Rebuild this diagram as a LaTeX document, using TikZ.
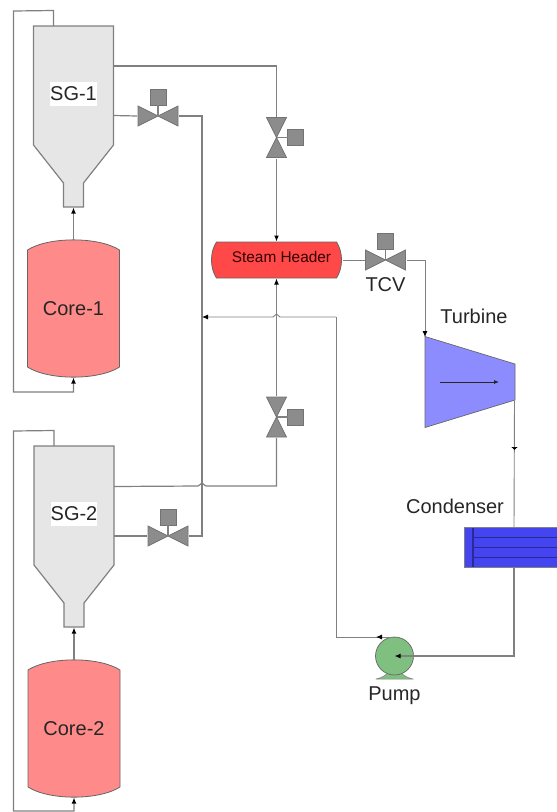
\documentclass[tikz,border=0pt]{standalone}
\usepackage{fontspec}
\setmainfont{Liberation Sans}
\usetikzlibrary{arrows.meta,calc}
\definecolor{pipegray}{HTML}{808080}
\definecolor{valvegray}{HTML}{8C8C8C}
\definecolor{sgfill}{HTML}{E6E6E6}
\definecolor{corefill}{HTML}{FF8A8A}
\definecolor{headerfill}{HTML}{FF4848}
\definecolor{turbinefill}{HTML}{8C8CFF}
\definecolor{condfill}{HTML}{4444F0}
\definecolor{condline}{HTML}{2A2A90}
\definecolor{pumpfill}{HTML}{7FBF7F}
\tikzstyle{pipe} = [draw=pipegray, line width=1.2pt]
\tikzstyle{thinpipe} = [draw=pipegray, line width=0.9pt]
\tikzstyle{flow} = [-{Latex[black,length=6pt,width=5pt]}]
\tikzstyle{flat} = [-{Latex[black,length=3pt,width=7pt]}]
\tikzstyle{tag} = [font=\fontsize{20}{20}\selectfont, text=black!85, inner sep=0pt]
\tikzstyle{sglabel} = [tag, fill=white, minimum width=46pt, minimum height=24pt]
\tikzstyle{core} = [minimum width=94pt, minimum height=138pt, inner sep=0pt, outer sep=0pt, path picture={
    \draw [shift={(path picture bounding box.center)}, draw=black!60, fill=corefill, line width=0.8pt]
        (-46,58.5) .. controls (-25,72) and (25,72) .. (46,58.5) -- (46,-58.5)
        .. controls (25,-72) and (-25,-72) .. (-46,-58.5) -- cycle;}]
\tikzstyle{sg} = [minimum width=82pt, minimum height=182pt, inner sep=0pt, outer sep=0pt, path picture={
    \draw [shift={(path picture bounding box.center)}, draw=pipegray, fill=sgfill, line width=1.2pt]
        (-40,90.5) -- (40,90.5) -- (40,-28.5) -- (10,-66.5) -- (10,-90.5)
        -- (-10,-90.5) -- (-10,-66.5) -- (-40,-28.5) -- cycle;}]
\tikzstyle{header} = [minimum width=132pt, minimum height=37pt, inner sep=0pt, outer sep=0pt, path picture={
    \draw [shift={(path picture bounding box.center)}, draw=black!60, fill=headerfill, line width=0.8pt]
        (-60,18) -- (60,18) .. controls (66.7,8) and (66.7,-8) .. (60,-18) -- (-60,-18)
        .. controls (-66.7,-8) and (-66.7,8) .. cycle;}]
\tikzstyle{turbine} = [minimum width=92pt, minimum height=93pt, inner sep=0pt, outer sep=0pt, path picture={
    \draw [shift={(path picture bounding box.center)}, draw=black!60, fill=turbinefill, line width=0.7pt]
        (-45,45.5) -- (45,18) -- (45,-18) -- (-45,-45.5) -- cycle;
    \draw [shift={(path picture bounding box.center)}, -{Latex[length=5pt,width=4pt]}, black!85, line width=0.8pt] (-30,0) -- (29,0);}]
\tikzstyle{condenser} = [draw=pipegray, fill=condfill, line width=0.7pt, minimum width=93pt, minimum height=40pt,
    inner sep=0pt, outer sep=0pt, path picture={
    \draw [shift={(path picture bounding box.center)}, draw=condline, line width=1.2pt]
        (-37.5,20) -- (-37.5,-20) (-37.5,10) -- (46.5,10) (-37.5,0) -- (46.5,0) (-37.5,-10) -- (46.5,-10);}]
\tikzstyle{pump} = [circle, draw=black!60, fill=pumpfill, line width=0.7pt, minimum size=38pt, inner sep=0pt, outer sep=0pt]
\tikzstyle{pumpbase} = [minimum width=38pt, minimum height=8pt, inner sep=0pt, outer sep=0pt, path picture={
    \draw [shift={(path picture bounding box.center)}, draw=black!50, fill=pumpfill, line width=0.5pt]
        (-18.5,-3.5) .. controls (-12,-2) and (-9,0) .. (-6,3.5) -- (6,3.5) .. controls (9,0) and (12,-2) .. (18.5,-3.5) -- cycle;}]
\tikzstyle{valve} = [minimum width=42pt, minimum height=21pt, inner sep=0pt, outer sep=0pt, path picture={
    \draw [shift={(path picture bounding box.center)}, draw=black!55, fill=valvegray, line width=0.8pt]
        (-20,10) -- (20,-10) -- (20,10) -- (-20,-10) -- cycle;}]
\tikzstyle{vvalve} = [minimum width=21pt, minimum height=42pt, inner sep=0pt, outer sep=0pt, path picture={
    \draw [shift={(path picture bounding box.center)}, draw=black!55, fill=valvegray, line width=0.8pt]
        (-10,20) -- (10,20) -- (-10,-20) -- (10,-20) -- cycle;}]
\tikzstyle{actuator} = [draw=black!55, fill=valvegray, line width=1pt, minimum size=16pt, inner sep=0pt, outer sep=0pt]
\begin{document}
\begin{tikzpicture}[x=1pt,y=1pt,node distance=20pt]
    \useasboundingbox (0,0) rectangle (557,-812);
    \node [sg] (sg1) at (73.5,-116.5) {};
    \node [sglabel, above of=sg1, node distance=22.5pt] (sg1label) {SG-1};
    \node [core, below of=sg1, node distance=192pt] (core1) {};
    \node [tag] (core1label) at (core1) {Core-1};
    \node [sg] (sg2) at (74,-536.5) {};
    \node [sglabel, above of=sg2, node distance=23pt] (sg2label) {SG-2};
    \node [core, below of=sg2, node distance=192pt] (core2) {};
    \node [tag] (core2label) at (core2) {Core-2};
    \node [valve] (fwv1) at (158,-116) {};
    \node [actuator, above of=fwv1, node distance=19pt] (fwa1) {};
    \node [valve] (fwv2) at (168,-536) {};
    \node [actuator, above of=fwv2, node distance=19pt] (fwa2) {};
    \node [vvalve] (msv1) at (276.5,-137.5) {};
    \node [actuator, right of=msv1, node distance=19pt] (msa1) {};
    \node [header] (header) at (276.5,-260) {};
    \node [font=\fontsize{15.4}{15.4}\selectfont, text=black!80!red, inner sep=0pt] (headerlabel) at (281.5,-256.5) {Steam Header};
    \node [vvalve, below of=header, node distance=157pt] (msv2) {};
    \node [actuator, right of=msv2, node distance=19pt] (msa2) {};
    \node [valve, right of=header, node distance=109pt] (tcv) {};
    \node [actuator, above of=tcv, node distance=19pt] (tca) {};
    \node [tag, below of=tcv, node distance=25pt] (tcvlabel) {TCV};
    \node [turbine] (turbine) at (470,-382) {};
    \node [tag, above of=turbine, node distance=66pt, xshift=4pt] (turbinelabel) {Turbine};
    \node [condenser] (cond) at (510.5,-547.5) {};
    \node [tag, above of=cond, node distance=41.5pt, xshift=-55.5pt] (condlabel) {Condenser};
    \node [pumpbase] (base) at (394.5,-675.5) {};
    \node [pump, above of=base, node distance=19.5pt] (pump) {};
    \node [tag, below of=pump, node distance=40pt] (pumplabel) {Pump};
    % points on the vessels and pipe bends
    \coordinate (sg1steam) at ($(sg1.north east)+(-1,-40.5)$);
    \coordinate (sg1feed) at ($(sg1.north east)+(-1,-90)$);
    \coordinate (sg1top) at ($(sg1.north)+(-20,-0.5)$);
    \coordinate (sg2steam) at ($(sg2.north east)+(-1,-41)$);
    \coordinate (sg2feed) at ($(sg2.north east)+(-1,-90.5)$);
    \coordinate (sg2top) at ($(sg2.north)+(-20,-0.5)$);
    \coordinate (condtop) at (514,-527.5);
    \coordinate (condbot) at (514,-567.5);
    \coordinate (turbout) at (514.5,-400.5);
    \coordinate (turbin) at (425,-337);
    \coordinate (feedjoin) at (202,-317);
    \coordinate (feedbend) at (336,-317);
    \coordinate (pumpbend) at (336,-637);
    \draw [pipe, flow] (core1.north) -- (sg1.south);
    \draw [pipe, flow] (core2.north) -- (sg2.south);
    \draw [pipe, flow] (sg1top) -- ++(0,15.5) -- (13.5,-11) -- (13.5,-392) -- (73.5,-392) -- (core1.south);
    \draw [pipe, flow] (sg2top) -- ++(0,15.5) -- (13.5,-431) -- (13.5,-811) -- (74,-811) -- (core2.south);
    \draw [pipe] (sg1steam) -| (msv1.north);
    \draw [pipe, flow] (msv1.south) -- (header.north);
    \draw [pipe, flow] (msv2.north) -- (header.south);
    \draw [pipe] (sg2steam) -- (198,-486) .. controls (200,-486) and (200.5,-483) .. (202,-483) .. controls (203.5,-483) and (204,-486) .. (206,-486) -| (msv2.south);
    \draw [pipe] (sg1feed) -- (fwv1.west);
    \draw [pipe] (sg2feed) -- (fwv2.west);
    \draw [pipe] (fwv1.east) -| (feedjoin) |- (fwv2.east);
    \draw [pipe] (fwa1) -- (fwv1.center);
    \draw [pipe] (fwa2) -- (fwv2.center);
    \draw [pipe] (msa1) -- (msv1.center);
    \draw [pipe] (msa2) -- (msv2.center);
    \draw [pipe] (tca) -- (tcv.center);
    \draw [thinpipe] (header.east) -- (tcv.west);
    \draw [thinpipe, flow] (tcv.east) -| (turbin);
    \draw [thinpipe] (turbout) -- (condtop);
    \draw [thinpipe, flat] (turbout) -- ++(0,-49.5);
    \draw [pipe, flow] (condbot) |- (pump.center);
    \draw [thinpipe, flow] (feedbend) -- (280,-317) .. controls (278.5,-317) and (278,-314) .. (276.5,-314) .. controls (275,-314) and (274.5,-317) .. (273,-317) -- (feedjoin);
    \draw [thinpipe] (pump.north) -- (pumpbend) -- (feedbend);
    \draw [thinpipe, flow] (pump.north) -- (376,-637);
\end{tikzpicture}
\end{document}
